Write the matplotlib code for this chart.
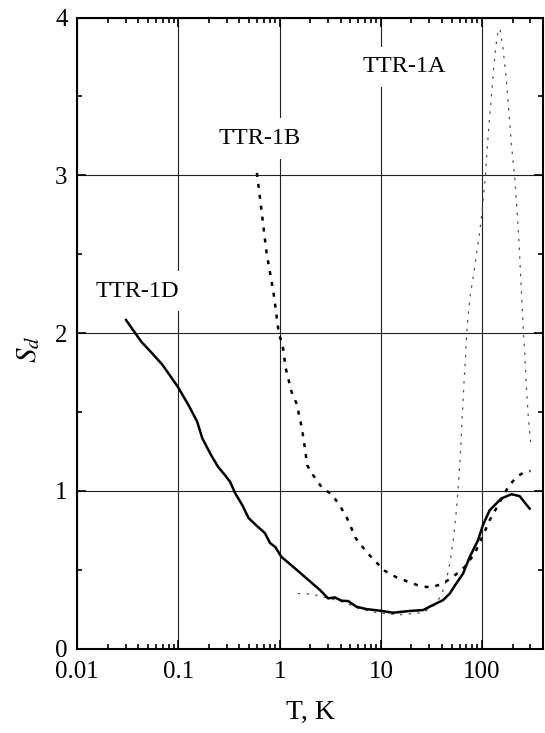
import matplotlib
matplotlib.use('Agg')
import matplotlib.pyplot as plt

plt.rcParams['font.family'] = ['Liberation Serif', 'DejaVu Serif']
plt.rcParams['mathtext.fontset'] = 'stix'

# TTR-1D, solid line
t_1d = [0.0303, 0.043, 0.0547, 0.0693, 0.0982, 0.1256, 0.153, 0.172, 0.21, 0.246,
        0.288, 0.324, 0.365, 0.428, 0.493, 0.586, 0.714, 0.805, 0.906, 1.04,
        1.36, 1.84, 2.5, 3.01, 3.51, 4.08, 4.75, 5.74, 7.2, 9.77,
        13.2, 19.3, 26.2, 32.8, 41.2, 48, 53.7, 65, 75.7, 91.3,
        102, 119, 155, 195, 235, 295]
s_1d = [2.083, 1.945, 1.873, 1.80, 1.661, 1.544, 1.439, 1.333, 1.227, 1.153,
        1.10, 1.057, 0.983, 0.909, 0.828, 0.782, 0.733, 0.669, 0.644, 0.582,
        0.519, 0.446, 0.372, 0.319, 0.325, 0.304, 0.302, 0.266, 0.251, 0.241,
        0.228, 0.239, 0.245, 0.277, 0.308, 0.35, 0.399, 0.477, 0.583, 0.688,
        0.783, 0.878, 0.952, 0.979, 0.967, 0.888]

# TTR-1B, dashed line
t_1b = [0.596, 0.66, 0.743, 0.871, 0.98, 1.07, 1.15, 1.31, 1.47, 1.65,
        1.77, 1.87, 2.14, 2.59, 3.33, 3.99, 4.58, 5.66, 7.2, 8.9,
        10.9, 14.3, 18.6, 24.3, 31.6, 41.2, 51.8, 67.5, 84.7, 106,
        119, 144, 181, 219, 254, 301]
s_1b = [3.015, 2.782, 2.507, 2.253, 2.0, 1.922, 1.775, 1.627, 1.553, 1.405,
        1.278, 1.163, 1.10, 1.025, 0.973, 0.899, 0.835, 0.699, 0.614, 0.551,
        0.494, 0.452, 0.424, 0.397, 0.388, 0.414, 0.456, 0.519, 0.604, 0.741,
        0.815, 0.91, 1.025, 1.089, 1.114, 1.127]

# TTR-1A, dotted line
t_1a = [1.51, 2.13, 2.6, 3.5, 4.5, 6, 8, 9.77, 15, 26.2,
        34.1, 39.7, 44.4, 48.6, 52.5, 55.8, 58.4, 61.1, 63.4, 65.9,
        69, 70.1, 72.8, 76.8, 82.8, 88, 94.9, 100, 104.8, 108.9,
        112, 116.5, 121, 125.7, 130.4, 135.5, 140.7, 143.9, 150, 158.9,
        167.5, 176.7, 185, 195, 210, 222, 232, 241, 250, 258,
        264, 274, 285, 296, 303]
s_1a = [0.35, 0.345, 0.33, 0.31, 0.29, 0.255, 0.235, 0.225, 0.215, 0.228,
        0.277, 0.34, 0.435, 0.561, 0.709, 0.878, 1.047, 1.237, 1.447, 1.658,
        1.87, 1.975, 2.112, 2.249, 2.376, 2.502, 2.64, 2.777, 2.903, 3.03,
        3.157, 3.304, 3.43, 3.557, 3.684, 3.789, 3.873, 3.916, 3.93, 3.832,
        3.705, 3.557, 3.388, 3.198, 2.987, 2.777, 2.566, 2.354, 2.144, 1.975,
        1.87, 1.658, 1.49, 1.363, 1.304]

# curve labels: text, T, S
labels = [('TTR-1A', 17.2, 3.652),
          ('TTR-1B', 0.637, 3.199),
          ('TTR-1D', 0.039, 2.232)]

fig = plt.figure(figsize=(5.45, 7.33), dpi=100)
ax = fig.add_axes([0.1418, 0.1150, 0.8545, 0.8611])

ax.set_xscale('log')
ax.set_xlim(0.01, 400)
ax.set_ylim(0, 4)

ax.plot(t_1a, s_1a, color='#555555', linewidth=0.9, linestyle=(0, (2, 5)), zorder=3)
ax.plot(t_1b, s_1b, color='black', linewidth=1.8, linestyle=(0, (1.6, 2.8)), zorder=4)
ax.plot(t_1d, s_1d, color='black', linewidth=1.8, zorder=5)

for txt, x, y in labels:
    ax.text(x, y, txt, fontsize=17.5, ha='center', va='baseline', zorder=6,
            bbox=dict(boxstyle='square,pad=0.4', facecolor='white', edgecolor='none'))

ax.set_xticks([0.01, 0.1, 1, 10, 100])
ax.set_xticklabels(['0.01', '0.1', '1', '10', '100'])
ax.set_yticks([0, 1, 2, 3, 4])
ax.set_yticks([0.5, 1.5, 2.5, 3.5], minor=True)

ax.grid(which='major', color='#222222', linewidth=0.8, zorder=1)
ax.set_axisbelow(True)

ax.tick_params(which='both', direction='in', top=True, right=True, width=1.2)
ax.tick_params(which='major', length=6.5, labelsize=18)
ax.tick_params(axis='x', which='major', pad=9)
ax.tick_params(axis='y', which='major', pad=7)
ax.tick_params(which='minor', length=3.6)

for sp in ax.spines.values():
    sp.set_linewidth(1.5)

ax.set_xlabel('T, K', fontsize=20)
ax.set_ylabel('$S_d$', fontsize=21)
ax.xaxis.set_label_coords(0.5, -0.081)
ax.yaxis.set_label_coords(-0.075, 0.474)

plt.savefig('out.png', dpi=100)
